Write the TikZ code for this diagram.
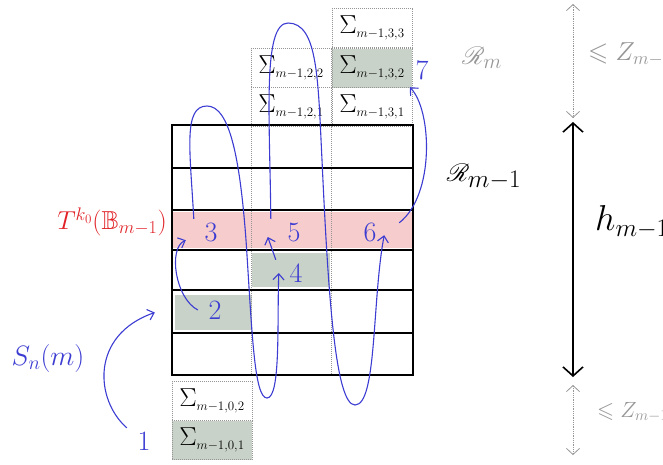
\RequirePackage{fix-cm}
\documentclass[tikz,border=0pt]{standalone}
\usepackage{amsmath,amssymb,mathrsfs,xcolor}
\usepackage{fontspec}
\definecolor{skblue}{RGB}{60,60,210}
\definecolor{skred}{RGB}{225,35,40}
\definecolor{skpink}{RGB}{246,204,204}
\definecolor{skgreen}{RGB}{200,210,200}
\definecolor{skgray}{RGB}{150,150,150}
\usetikzlibrary{arrows.meta,positioning,calc}
\newcommand{\sig}[1]{$\Sigma_{\scriptscriptstyle #1}$}

\begin{document}
\begin{tikzpicture}[
  x=1pt, y=-1pt,
  every node/.style={inner sep=0pt},
  sigbox/.style={draw=skgray,densely dotted,line width=1pt,minimum width=80pt,minimum height=39pt,
                 font=\fontsize{26}{28}\selectfont},
  steplbl/.style={text=skblue,minimum width=34pt,minimum height=26pt,font=\fontsize{28}{30}\selectfont},
  gridline/.style={line width=2.2pt},
  colline/.style={skgray,densely dotted,line width=1pt},
  flow/.style={skblue,line width=1.1pt,-{Straight Barb[length=6pt,width=11pt]}},
  dimdot/.style={skgray,densely dotted,line width=0.8pt,
                 {Straight Barb[length=6pt,width=13pt]}-{Straight Barb[length=6pt,width=13pt]}},
  dimline/.style={line width=1.6pt,{Straight Barb[length=9pt,width=20pt]}-{Straight Barb[length=9pt,width=20pt]}},
]
  \useasboundingbox (0,0) rectangle (663,464);
  \clip (0,0) rectangle (663,464);

  % shaded rows and cells
  \fill[skpink] (172,212) rectangle (413,248);
  \node[fill=skgreen,minimum width=77pt,minimum height=35pt] (cell2) at (213.5,312.5) {};
  \node[fill=skgreen,minimum width=78pt,minimum height=34pt] (cell4) at (291,270) {};

  % column 3 on top
  \node[sigbox] (s33) at (372,28) {\sig{m-1,3,3}};
  \node[sigbox,fill=skgreen] (s32) at (372,68) {\sig{m-1,3,2}};
  \node[sigbox] (s31) at (372,107) {\sig{m-1,3,1}};
  % column 2 on top
  \node[sigbox] (s22) at (291,68) {\sig{m-1,2,2}};
  \node[sigbox] (s21) at (291,107) {\sig{m-1,2,1}};
  % column 1 below
  \node[sigbox] (s02) at (212,401) {\sig{m-1,0,2}};
  \node[sigbox,fill=skgreen] (s01) at (212,440) {\sig{m-1,0,1}};

  % the block R_{m-1}
  \draw[colline] (251,125) -- (251,375);
  \draw[colline] (331,125) -- (331,375);
  \draw[gridline] (172,125) rectangle (413,375);
  \foreach \y in {168,210,250,290,333}
    \draw[gridline] (172,\y) -- (413,\y);

  % step numbers
  \node[steplbl] (n1) at (144,441) {1};
  \node[steplbl] (n2) at (215,310) {2};
  \node[steplbl] (n3) at (211,232) {3};
  \node[steplbl] (n4) at (296,273) {4};
  \node[steplbl] (n5) at (294,232) {5};
  \node[steplbl] (n6) at (370,232) {6};
  \node[steplbl] (n7) at (422,70) {7};

  % labels
  \node[text=skred,font=\fontsize{26}{28}\selectfont] (tlab) at (112,222) {$T^{k_0}(\mathbb{B}_{m-1})$};
  \node[text=skblue,font=\fontsize{28}{30}\selectfont] (sn) at (48,358) {$S_n(m)$};
  \node[font=\fontsize{36}{38}\selectfont] (rlab) at (484,177) {$\mathscr{R}_{m-1}$};
  \node[text=skgray,font=\fontsize{30}{32}\selectfont] (rmlab) at (482,58) {$\mathscr{R}_m$};
  \node[anchor=west,font=\fontsize{36}{38}\selectfont] (hlab) at (595,222) {$h_{m-1}$};
  \node[anchor=west,text=skgray,font=\fontsize{26}{28}\selectfont] (ztlab) at (588,54) {$\leqslant Z_{m-1}$};
  \node[anchor=west,text=skgray,font=\fontsize{22}{24}\selectfont] (zblab) at (597,412) {$\leqslant Z_{m-1}$};

  % heights on the right
  \coordinate (ztop) at (573,4);
  \coordinate (zmid) at (573,118);
  \coordinate (rtop) at (573,122);
  \coordinate (rbot) at (573,377);
  \coordinate (zlow) at (573,385);
  \coordinate (zbot) at (573,455);
  \draw[dimdot] (ztop) -- (zmid);
  \draw[dimline] (rtop) -- (rbot);
  \draw[dimdot] (zlow) -- (zbot);

  % the path 1 -> 7
  \draw[flow] (n1.north west) .. controls (95,400) and (90,335) .. ([xshift=-20pt]cell2.west);
  \draw[flow] (n2.west) .. controls (175,298) and (168,248) .. ([xshift=-8pt,yshift=5pt]n3.south west);
  \draw[flow] (n3.north west) .. controls (190,150) and (183,106) .. (207,106)
    .. controls (230,106) and (240,160) .. (246,240)
    .. controls (252,330) and (254,398) .. (267,398)
    .. controls (281,398) and (277,320) .. (n4.west);
  \draw[flow] ([xshift=-3pt]n4.north west) -- ([xshift=-9pt,yshift=-5pt]n5.west);
  \draw[flow] ([xshift=-6pt]n5.north west) .. controls (270,120) and (262,23) .. (288,23)
    .. controls (318,23) and (318,80) .. (322,160)
    .. controls (328,290) and (335,405) .. (355,405)
    .. controls (377,405) and (372,300) .. ([xshift=-3pt,yshift=10pt]n6.south east);
  \draw[flow] ([xshift=12pt,yshift=-4pt]n6.north east) .. controls (435,195) and (432,110) .. ([xshift=5pt,yshift=-4pt]n7.south west);
\end{tikzpicture}
\end{document}
